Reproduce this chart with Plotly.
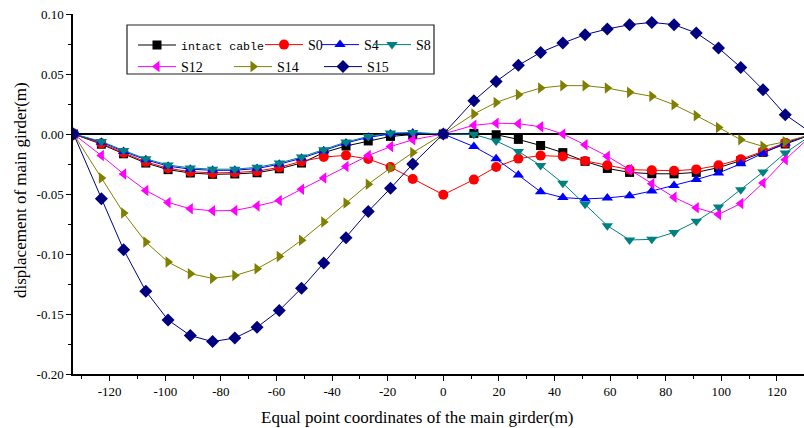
import plotly.graph_objects as go

# ---------------- data ----------------
x_pos = [-133, -123, -115, -107, -99, -91, -83, -75, -67, -59, -51, -43, -35, -27, -19, -11, 0,
         11, 19, 27, 35, 43, 51, 59, 67, 75, 83, 91, 99, 107, 115, 123, 133]

intact = [0, -0.0085, -0.0165, -0.0242, -0.0297, -0.0325, -0.0336, -0.0333, -0.0323, -0.0290, -0.0242,
          -0.0155, -0.0100, -0.0058, -0.0020, -0.0005, 0,
          0.0005, -0.0006, -0.0045, -0.0096, -0.0155, -0.0228, -0.0287, -0.0320, -0.0331, -0.0332,
          -0.0320, -0.0280, -0.0222, -0.0153, -0.0083, 0]

s0 = [0, -0.0078, -0.0156, -0.0232, -0.0286, -0.0314, -0.0324, -0.0321, -0.0310, -0.0278, -0.0228,
      -0.0192, -0.0178, -0.0208, -0.0275, -0.0375, -0.0506,
      -0.0380, -0.0275, -0.0205, -0.0180, -0.0187, -0.0225, -0.0260, -0.0297, -0.0302, -0.0306,
      -0.0295, -0.0261, -0.0210, -0.0145, -0.0072, 0]

s4 = [0, -0.0068, -0.0145, -0.0215, -0.0268, -0.0293, -0.0303, -0.0302, -0.0288, -0.0252, -0.0202,
      -0.0140, -0.0075, -0.0028, 0.0000, 0.0008, 0,
      -0.0105, -0.0207, -0.0342, -0.0482, -0.0530, -0.0541, -0.0533, -0.0514, -0.0475, -0.0430,
      -0.0380, -0.0325, -0.0248, -0.0160, -0.0075, 0]

s8 = [0, -0.0062, -0.0137, -0.0207, -0.0258, -0.0283, -0.0293, -0.0293, -0.0278, -0.0242, -0.0192,
      -0.0131, -0.0067, -0.0020, 0.0008, 0.0013, 0,
      -0.0003, -0.0058, -0.0145, -0.0262, -0.0410, -0.0585, -0.0764, -0.0883, -0.0878, -0.0820,
      -0.0728, -0.0608, -0.0464, -0.0317, -0.0158, 0]

s12 = [0, -0.0180, -0.0333, -0.0470, -0.0570, -0.0623, -0.0640, -0.0637, -0.0600, -0.0555, -0.0460,
       -0.0367, -0.0270, -0.0180, -0.0105, -0.0048, 0,
       0.0073, 0.0090, 0.0086, 0.0060, 0.0000, -0.0090, -0.0185, -0.0297, -0.0415, -0.0527,
       -0.0615, -0.0670, -0.0580, -0.0408, -0.0214, 0]

s14 = [0, -0.0367, -0.0658, -0.0900, -0.1067, -0.1164, -0.1203, -0.1180, -0.1123, -0.1020, -0.0885,
       -0.0733, -0.0575, -0.0418, -0.0283, -0.0155, 0,
       0.0167, 0.0263, 0.0328, 0.0383, 0.0403, 0.0403, 0.0383, 0.0347, 0.0314, 0.0244,
       0.0153, 0.0055, -0.0048, -0.0103, -0.0064, 0]

s15 = [0, -0.0540, -0.0964, -0.1310, -0.1550, -0.1680, -0.1730, -0.1700, -0.1610, -0.1470, -0.1285,
       -0.1075, -0.0864, -0.0645, -0.0453, -0.0250, 0,
       0.0278, 0.0438, 0.0572, 0.0680, 0.0758, 0.0828, 0.0875, 0.0911, 0.0930, 0.0911,
       0.0842, 0.0717, 0.0555, 0.0369, 0.0161, 0]

series_names = ["intact cable", "S0", "S4", "S8", "S12", "S14", "S15"]
x_tick_vals = [-120, -100, -80, -60, -40, -20, 0, 20, 40, 60, 80, 100, 120]
x_tick_text = ["-120", "-100", "-80", "-60", "-40", "-20", "0", "20", "40", "60", "80", "100", "120"]
y_tick_vals = [-0.20, -0.15, -0.10, -0.05, 0.00, 0.05, 0.10]
y_tick_text = ["-0.20", "-0.15", "-0.10", "-0.05", "0.00", "0.05", "0.10"]
x_title = "Equal point coordinates of the main girder(m)"
y_title = "displacement of main girder(m)"

# ---------------- layout helpers ----------------
W, H = 804, 428
L, R, T, B = 73, 0, 14, 54
PW, PH = W - L - R, H - T - B

SERIF = "'Liberation Serif', 'Times New Roman', Times, serif"
MONO = "'Liberation Mono', 'Courier New', Courier, monospace"


def px_x(p):
    return (p - L) / PW


def px_y(p):
    return (H - B - p) / PH


styles = [
    dict(color="#000000", symbol="square", size=9),
    dict(color="#FF0000", symbol="circle", size=10),
    dict(color="#0000FF", symbol="triangle-up", size=10),
    dict(color="#008080", symbol="triangle-down", size=10),
    dict(color="#FF00FF", symbol="triangle-left", size=10),
    dict(color="#808000", symbol="triangle-right", size=10),
    dict(color="#000080", symbol="diamond", size=10),
]
data = [intact, s0, s4, s8, s12, s14, s15]

# legend anchor positions (pixel) : marker x, row center y
leg_pos = [(157, 45), (284, 45), (340, 45), (392, 45), (157, 67), (253, 67), (343, 67)]
leg_ids = ["legend", "legend2", "legend3", "legend4", "legend5", "legend6", "legend7"]

fig = go.Figure()
for name, ys, st, lid in zip(series_names, data, styles, leg_ids):
    fig.add_trace(go.Scatter(
        x=x_pos, y=ys, mode="lines+markers", name=name, legend=lid,
        line=dict(color=st["color"], width=1),
        marker=dict(color=st["color"], symbol=st["symbol"], size=st["size"]),
    ))

legend_layout = {}
for i, (lid, (mx, my)) in enumerate(zip(leg_ids, leg_pos)):
    fam = MONO if i == 0 else SERIF
    fs = 11.5 if i == 0 else 14
    legend_layout[lid] = dict(
        x=px_x(mx - 24), y=px_y(my), xanchor="left", yanchor="middle",
        bgcolor="rgba(0,0,0,0)", borderwidth=0, itemwidth=38,
        font=dict(family=fam, size=fs, color="black"),
        orientation="h", tracegroupgap=0,
    )

axis_font = dict(family=SERIF, size=13, color="black")

fig.update_layout(
    width=W, height=H,
    margin=dict(l=L, r=R, t=T, b=B, pad=0),
    paper_bgcolor="white", plot_bgcolor="white",
    font=dict(family=SERIF, color="black"),
    showlegend=True,
    **legend_layout,
    xaxis=dict(
        range=[-133.2, -133.2 + PW / 2.78], tickmode="array",
        tickvals=x_tick_vals, ticktext=x_tick_text,
        ticks="outside", ticklen=5, tickwidth=1, tickcolor="black",
        minor=dict(dtick=10, tick0=0, ticks="outside", ticklen=3, tickcolor="black", tickwidth=1),
        showline=True, linecolor="black", linewidth=1.5,
        showgrid=False, zeroline=False, tickfont=axis_font,
    ),
    yaxis=dict(
        range=[-0.2, 0.1], tickmode="array",
        tickvals=y_tick_vals, ticktext=y_tick_text,
        ticks="outside", ticklen=5, tickwidth=1, tickcolor="black",
        minor=dict(dtick=0.025, tick0=0, ticks="outside", ticklen=3, tickcolor="black", tickwidth=1),
        showline=True, linecolor="black", linewidth=1.5,
        showgrid=False, zeroline=True, zerolinecolor="black", zerolinewidth=1.5,
        tickfont=axis_font,
    ),
    shapes=[dict(type="rect", xref="paper", yref="paper",
                 x0=px_x(127), x1=px_x(434), y0=px_y(74), y1=px_y(25),
                 line=dict(color="#222222", width=1.2), fillcolor="white", layer="above")],
    annotations=[
        dict(text=x_title, xref="paper", yref="paper", x=px_x(417.5), y=px_y(417),
             xanchor="center", yanchor="middle", showarrow=False,
             font=dict(family=SERIF, size=17, color="black")),
        dict(text=y_title, xref="paper", yref="paper", x=px_x(20), y=px_y(190),
             xanchor="center", yanchor="middle", showarrow=False, textangle=-90,
             font=dict(family=SERIF, size=17, color="black")),
    ],
)

fig.write_html("out.html")
